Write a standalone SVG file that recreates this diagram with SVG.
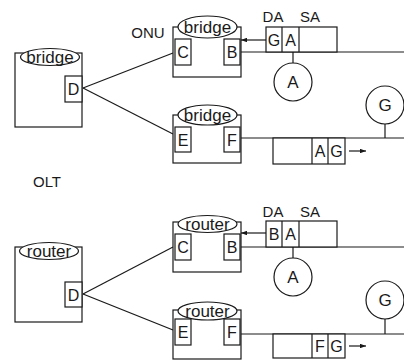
<svg xmlns="http://www.w3.org/2000/svg" width="404" height="361" viewBox="0 0 404 361">
<defs>
<style>
.ln{stroke:#1a1a1a;stroke-width:1.2;fill:none}
.box{stroke:#1a1a1a;stroke-width:1.2;fill:#fff}
.el{stroke:#1a1a1a;stroke-width:1.2;fill:#fff}
text{font-family:"Liberation Sans",Arial,sans-serif;fill:#1a1a1a}
.lab{font-size:17px;text-anchor:middle}
.port{font-size:16px;text-anchor:middle}
.cell{font-size:16px;text-anchor:middle}
.big{font-size:15px;text-anchor:middle}
</style>
<marker id="ah" viewBox="0 0 8 6" refX="8" refY="3" markerWidth="6" markerHeight="4.5" orient="auto" markerUnits="userSpaceOnUse">
<path d="M0,0 L8,3 L0,6 Z" fill="#1a1a1a"/>
</marker>
</defs>
<rect width="404" height="361" fill="#fff"/>

<text class="big" x="47" y="187">OLT</text>
<text class="big" x="148" y="38">ONU</text>

<g id="connectors">
<line class="ln" x1="83" y1="88" x2="173" y2="53"/>
<line class="ln" x1="83" y1="88" x2="173" y2="134"/>
<line class="ln" x1="241" y1="52" x2="404" y2="52"/>
<line class="ln" x1="241" y1="138" x2="404" y2="138"/>
<line class="ln" x1="266" y1="40" x2="241" y2="40" marker-end="url(#ah)"/>
<line class="ln" x1="293" y1="52" x2="293" y2="63"/>
<line class="ln" x1="385" y1="124" x2="385" y2="138"/>
<line class="ln" x1="349" y1="151" x2="366" y2="151" marker-end="url(#ah)"/>

<line class="ln" x1="83" y1="294" x2="173" y2="247"/>
<line class="ln" x1="83" y1="294" x2="173" y2="330"/>
<line class="ln" x1="241" y1="247" x2="404" y2="247"/>
<line class="ln" x1="241" y1="334" x2="404" y2="334"/>
<line class="ln" x1="266" y1="233" x2="241" y2="233" marker-end="url(#ah)"/>
<line class="ln" x1="293" y1="247" x2="293" y2="258"/>
<line class="ln" x1="385" y1="319" x2="385" y2="334"/>
<line class="ln" x1="349" y1="346" x2="366" y2="346" marker-end="url(#ah)"/>
</g>

<!-- top section: bridge -->
<g id="olt-bridge">
<rect class="box" x="15" y="53" width="67" height="74"/>
<ellipse class="el" cx="50" cy="57" rx="29.5" ry="8.5"/>
<text class="lab" x="50" y="63">bridge</text>
<rect class="box" x="65" y="76" width="17" height="26"/>
<text class="port" x="73.5" y="95">D</text>
</g>

<g id="onu1-bridge">
<rect class="box" x="173" y="27" width="68" height="50"/>
<ellipse class="el" cx="207.5" cy="27" rx="29.5" ry="11"/>
<text class="lab" x="207.5" y="33">bridge</text>
<rect class="box" x="175" y="39" width="16" height="26"/>
<text class="port" x="183" y="58">C</text>
<rect class="box" x="224" y="39" width="16" height="26"/>
<text class="port" x="232" y="58">B</text>
</g>

<g id="onu2-bridge">
<rect class="box" x="173" y="115" width="68" height="48"/>
<ellipse class="el" cx="207.5" cy="115" rx="29.5" ry="10"/>
<text class="lab" x="207.5" y="121">bridge</text>
<rect class="box" x="175" y="127" width="16" height="25"/>
<text class="port" x="183" y="145.5">E</text>
<rect class="box" x="224" y="127" width="16" height="25"/>
<text class="port" x="232" y="145.5">F</text>
</g>

<g id="frame-top-1">
<text class="big" x="273" y="22">DA</text>
<text class="big" x="310" y="22">SA</text>
<rect class="box" x="266" y="27" width="71" height="25"/>
<line class="ln" x1="282" y1="27" x2="282" y2="52"/>
<line class="ln" x1="299" y1="27" x2="299" y2="52"/>
<text class="cell" x="274" y="45.5">G</text>
<text class="cell" x="290.5" y="45.5">A</text>
</g>

<g id="frame-top-2">
<rect class="box" x="273" y="138" width="72" height="26"/>
<line class="ln" x1="312" y1="138" x2="312" y2="164"/>
<line class="ln" x1="328" y1="138" x2="328" y2="164"/>
<text class="cell" x="320" y="157">A</text>
<text class="cell" x="336.5" y="157">G</text>
</g>

<g id="station-A-top">
<circle class="box" cx="293" cy="82" r="19"/>
<text class="lab" x="293" y="88">A</text>
</g>
<g id="station-G-top">
<circle class="box" cx="385" cy="105" r="19"/>
<text class="lab" x="385" y="111">G</text>
</g>

<!-- bottom section: router -->
<g id="olt-router">
<rect class="box" x="15" y="247" width="67" height="75"/>
<ellipse class="el" cx="49" cy="251" rx="29.5" ry="8.5"/>
<text class="lab" x="49" y="257">router</text>
<rect class="box" x="65" y="282" width="17" height="25"/>
<text class="port" x="73.5" y="300.5">D</text>
</g>

<g id="onu1-router">
<rect class="box" x="173" y="222" width="68" height="50"/>
<ellipse class="el" cx="207.5" cy="224" rx="29.5" ry="8.5"/>
<text class="lab" x="207.5" y="230">router</text>
<rect class="box" x="175" y="234" width="16" height="26"/>
<text class="port" x="183" y="253">C</text>
<rect class="box" x="224" y="234" width="16" height="26"/>
<text class="port" x="232" y="253">B</text>
</g>

<g id="onu2-router">
<rect class="box" x="173" y="310" width="68" height="49"/>
<ellipse class="el" cx="207.5" cy="311" rx="29.5" ry="9"/>
<text class="lab" x="207.5" y="317">router</text>
<rect class="box" x="175" y="319" width="16" height="26"/>
<text class="port" x="183" y="338">E</text>
<rect class="box" x="224" y="319" width="16" height="26"/>
<text class="port" x="232" y="338">F</text>
</g>

<g id="frame-bottom-1">
<text class="big" x="273" y="217">DA</text>
<text class="big" x="310" y="217">SA</text>
<rect class="box" x="266" y="221" width="71" height="26"/>
<line class="ln" x1="282" y1="221" x2="282" y2="247"/>
<line class="ln" x1="299" y1="221" x2="299" y2="247"/>
<text class="cell" x="274" y="240">B</text>
<text class="cell" x="290.5" y="240">A</text>
</g>

<g id="frame-bottom-2">
<rect class="box" x="273" y="334" width="72" height="24"/>
<line class="ln" x1="312" y1="334" x2="312" y2="358"/>
<line class="ln" x1="328" y1="334" x2="328" y2="358"/>
<text class="cell" x="320" y="352">F</text>
<text class="cell" x="336.5" y="352">G</text>
</g>

<g id="station-A-bottom">
<circle class="box" cx="293" cy="277" r="19"/>
<text class="lab" x="293" y="283">A</text>
</g>
<g id="station-G-bottom">
<circle class="box" cx="385" cy="300" r="19"/>
<text class="lab" x="385" y="306">G</text>
</g>
</svg>
